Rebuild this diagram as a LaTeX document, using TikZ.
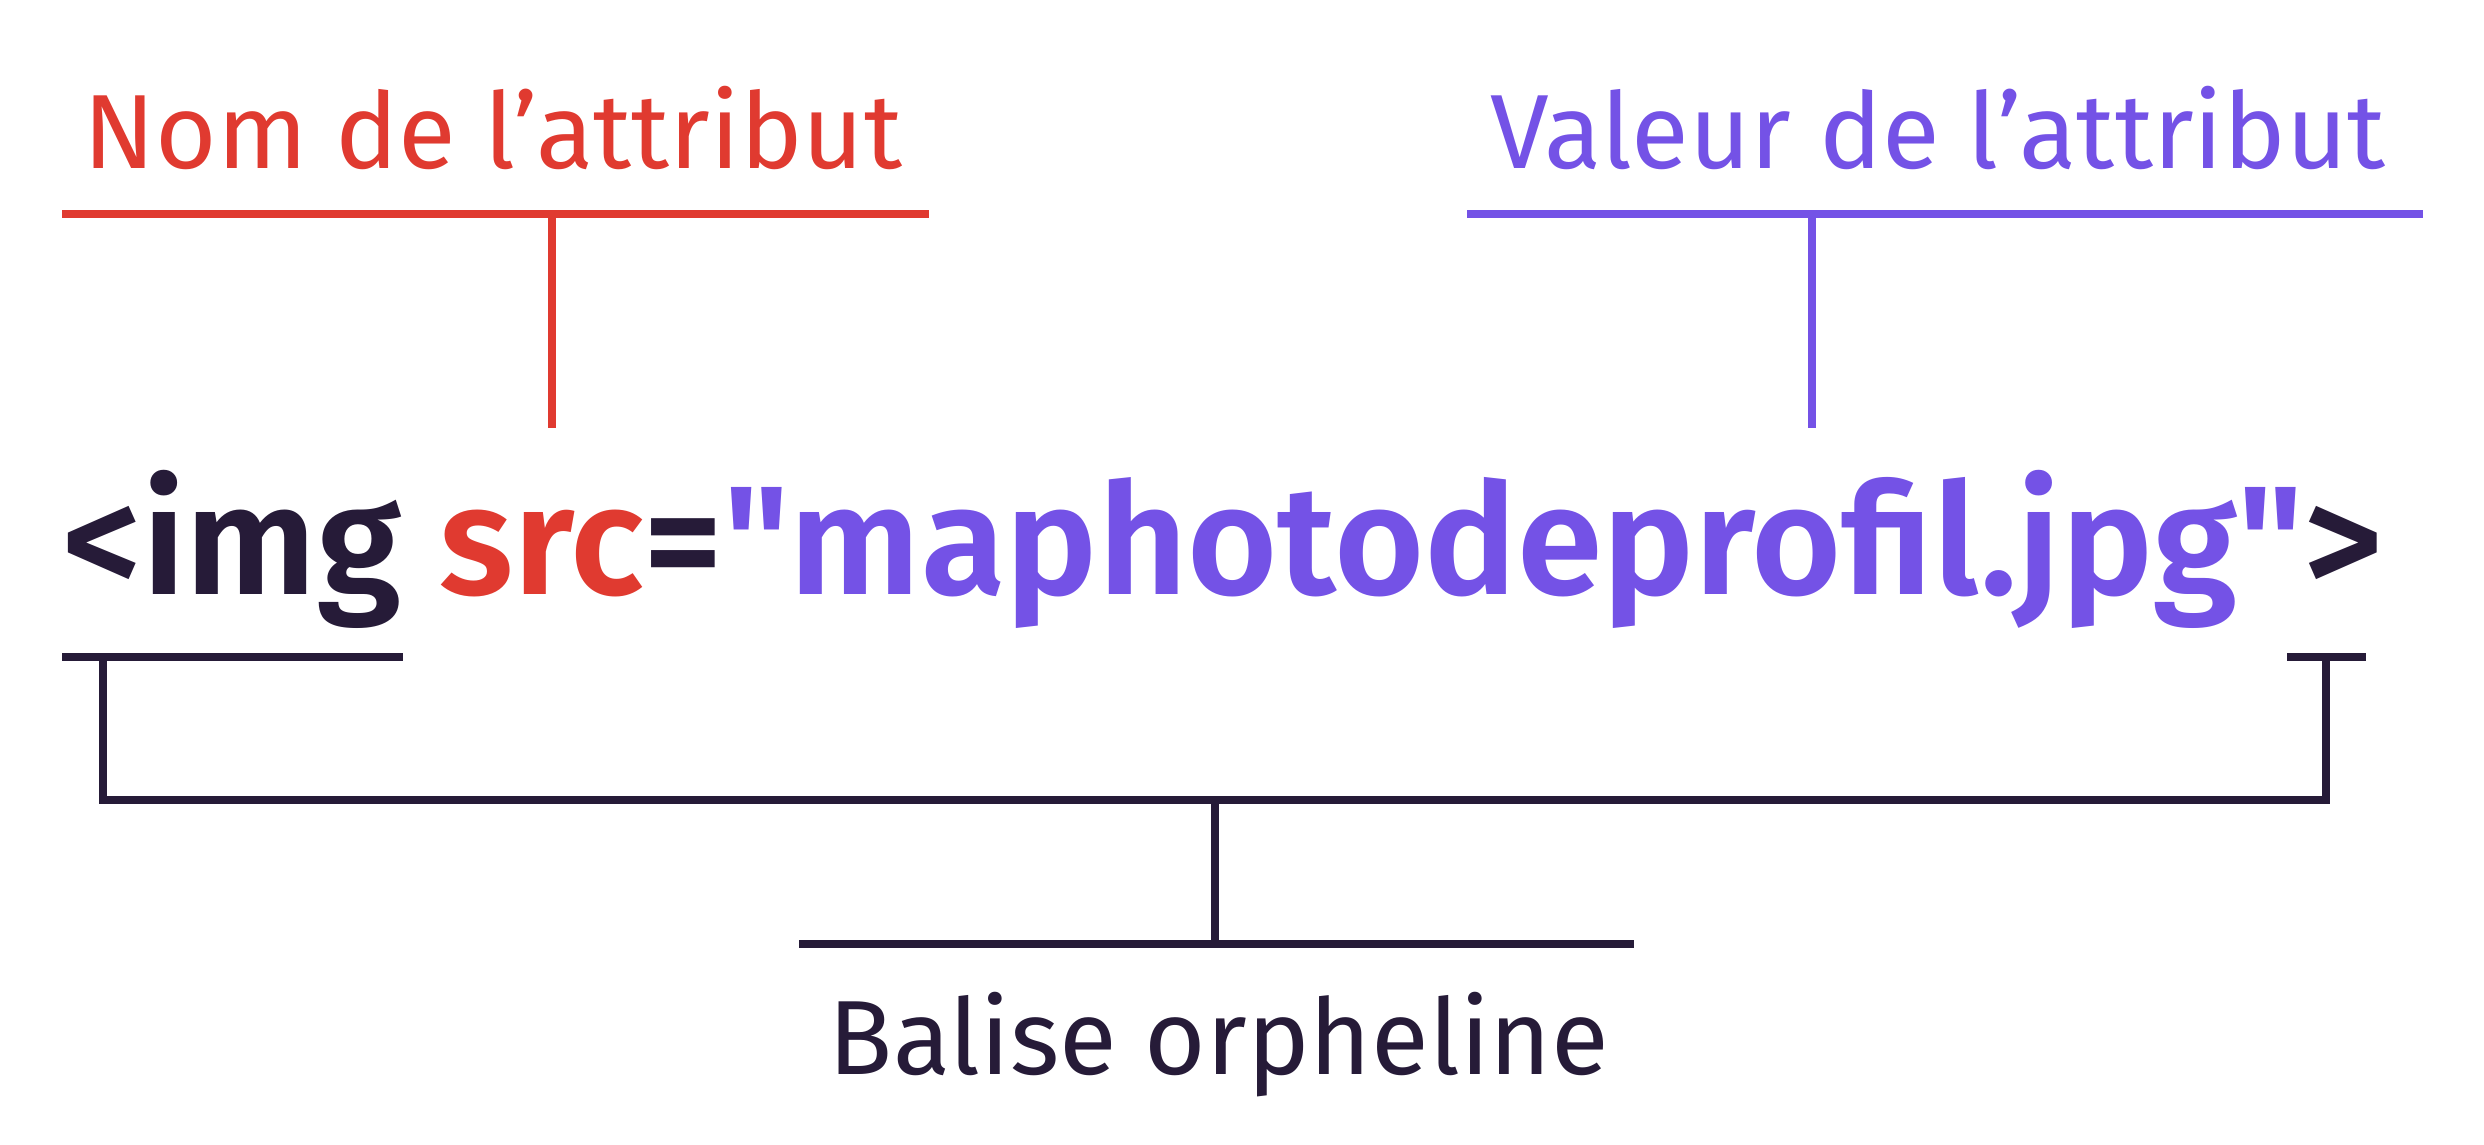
\documentclass[tikz,border=0pt]{standalone}
\usepackage{fontspec}
\setmainfont{Fira Sans}[Ligatures=TeXOff, BoldFont={* SemiBold}]
\usetikzlibrary{positioning}
\definecolor{Rcolor}{RGB}{224, 58, 48}
\definecolor{Pcolor}{RGB}{116, 82, 230}
\definecolor{Dcolor}{RGB}{38, 27, 56}
\def\labelsize{30}
\def\codesize{44}

\begin{document}
\begin{tikzpicture}[x=0.01cm, y=-0.01cm,
    bar/.style={line width=0.08cm},
    label/.style={font=\fontsize{\labelsize}{\labelsize}\selectfont, inner sep=0, anchor=base},
    code/.style={font=\fontsize{\codesize}{\codesize}\selectfont\bfseries, inner sep=0, anchor=base west}]
    \useasboundingbox (0,0) rectangle (2484,1144);
    % attribute name
    \node[label, text=Rcolor] (nom) at (493,168) {Nom de l’attribut};
    \coordinate (nomL) at (62,214);
    \coordinate (nomR) at (929,214);
    \coordinate (nomT) at (552,214);
    \coordinate (nomB) at (552,428);
    \draw[bar, Rcolor] (nomL) -- (nomR);
    \draw[bar, Rcolor] (nomT) -- (nomB);
    % attribute value
    \node[label, text=Pcolor] (valeur) at (1938,168) {Valeur de l’attribut};
    \coordinate (valL) at (1467,214);
    \coordinate (valR) at (2423,214);
    \coordinate (valT) at (1812,214);
    \coordinate (valB) at (1812,428);
    \draw[bar, Pcolor] (valL) -- (valR);
    \draw[bar, Pcolor] (valT) -- (valB);
    % tag
    \node[code] (balise) at (62,594) {\textcolor{Dcolor}{<img} \textcolor{Rcolor}{src}\textcolor{Dcolor}{=}\textcolor{Pcolor}{"maphotodeprofil.jpg"}\textcolor{Dcolor}{>}};
    % bracket
    \coordinate (openL) at (62,657);
    \coordinate (openR) at (403,657);
    \coordinate (closeL) at (2287,657);
    \coordinate (closeR) at (2366,657);
    \draw[bar, Dcolor] (openL) -- (openR);
    \draw[bar, Dcolor] (closeL) -- (closeR);
    \coordinate (brkL) at (103,800);
    \coordinate (brkR) at (2326,800);
    \coordinate (brkM) at (1215,800);
    \draw[bar, Dcolor] (103,657) -- (brkL) -- (brkR) -- (2326,657);
    \coordinate (orphT) at (1215,944);
    \draw[bar, Dcolor] (brkM) -- (orphT);
    % orphan tag
    \coordinate (orphL) at (799,944);
    \coordinate (orphR) at (1634,944);
    \draw[bar, Dcolor] (orphL) -- (orphR);
    \node[label, text=Dcolor] (orph) at (1219,1074) {Balise orpheline};
\end{tikzpicture}
\end{document}
